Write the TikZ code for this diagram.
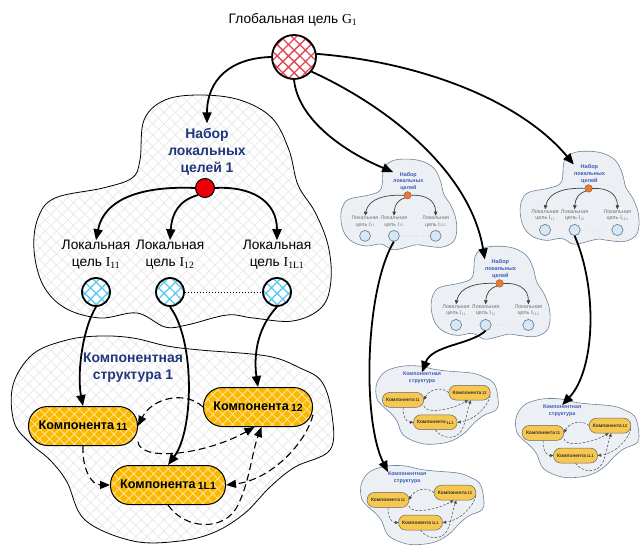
\documentclass[tikz,border=0pt]{standalone}
\usepackage{fontspec}
\setmainfont{Liberation Sans}
\newfontfamily\tmsfont{Liberation Serif}
\usetikzlibrary{arrows.meta,patterns.meta,calc}

\definecolor{navy}{RGB}{30,55,125}
\definecolor{smallnavy}{RGB}{60,90,180}
\definecolor{goalblue}{RGB}{90,200,240}
\definecolor{hubred}{RGB}{235,0,10}
\definecolor{hubor}{RGB}{240,120,40}
\definecolor{ggred}{RGB}{225,70,85}
\definecolor{comporange}{RGB}{250,185,0}
\definecolor{comphatch}{RGB}{255,228,150}
\definecolor{smallcomp}{RGB}{247,200,80}
\definecolor{paleblob}{RGB}{236,240,245}
\definecolor{paleedge}{RGB}{110,130,150}
\definecolor{smallcircle}{RGB}{214,232,246}

% serif letter with serif subscript, e.g. I_{11}
\newcommand\subidx[2]{{\tmsfont #1\textsubscript{#2}}}
% component caption with its small index
\newcommand\complabel[1]{Компонента\,\raisebox{-1bp}{\fontsize{10.5}{11}\selectfont #1}}

\tikzset{
  mainarrow/.style={line width=1.8bp, -{Triangle[length=11bp,width=9bp]}},
  globalgoal/.style={circle, minimum size=44bp, inner sep=0pt, draw=black, line width=1.8bp,
    preaction={fill=white}, pattern={Hatch[angle=45,distance=8bp,line width=1.3bp]}, pattern color=ggred},
  bigset/.style={
    blob/.style={draw=black, line width=0.8bp, preaction={fill=white},
      pattern={Hatch[angle=45,distance=8bp,line width=0.7bp]}, pattern color=black!9},
    settitle/.style={font=\fontsize{14}{17}\selectfont\bfseries, text=navy, align=center, inner sep=0pt},
    goallabel/.style={font=\fontsize{13.8}{17}\selectfont, align=center, inner sep=0pt},
    goal/.style={circle, minimum size=28bp, inner sep=0pt, draw=black, line width=1.8bp,
      preaction={fill=white}, pattern={Hatch[angle=45,distance=8bp,line width=1.3bp]}, pattern color=goalblue},
    hub/.style={circle, minimum size=19bp, inner sep=0pt, fill=hubred, draw=black, line width=1bp},
    goalarrow/.style={line width=1.8bp, -{Triangle[length=11bp,width=9bp]}},
    dotline/.style={dotted, line width=1bp},
    comp/.style={rectangle, rounded corners=19bp, minimum height=39bp, minimum width=109bp, inner sep=0pt,
      draw=black, line width=1bp, preaction={fill=comporange},
      pattern={Hatch[angle=45,distance=7bp,line width=0.9bp]}, pattern color=comphatch,
      font=\fontsize{12.7}{14}\selectfont\bfseries},
    link/.style={dash pattern=on 7bp off 4bp, line width=1.1bp, -{Triangle[length=10bp,width=8bp]}},
  },
  smallset/.style={
    blob/.style={draw=paleedge, line width=0.6bp, fill=paleblob},
    settitle/.style={font=\fontsize{14}{17}\selectfont\bfseries, text=smallnavy, align=center, inner sep=0pt},
    goallabel/.style={font=\fontsize{13.8}{17}\selectfont, text=black!55, align=center, inner sep=0pt},
    goal/.style={circle, minimum size=28bp, inner sep=0pt, draw=paleedge, line width=0.7bp, fill=smallcircle},
    hub/.style={circle, minimum size=19bp, inner sep=0pt, fill=hubor, draw=black!60, line width=0.4bp},
    goalarrow/.style={line width=0.7bp, draw=black!75, -{Triangle[length=4bp,width=3.5bp]}},
    dotline/.style={dotted, line width=0.4bp, draw=black!50},
    comp/.style={rectangle, rounded corners=7.3bp, minimum height=39bp, minimum width=109bp, inner sep=0pt,
      draw=black!60, line width=0.5bp, fill=smallcomp,
      font=\fontsize{12.7}{14}\selectfont\bfseries, text=black!80},
    link/.style={dash pattern=on 2.5bp off 1.6bp, line width=0.5bp, draw=black!70, -{Triangle[length=3.5bp,width=3bp]}},
  },
}

% a set of local goals: prefix, shift, scale, title, look
\newcommand\goalset[5]{%
\begin{scope}[shift={#2}, scale=#3, #5, every node/.append style={transform shape}]
  \path[blob] plot[smooth cycle, tension=0.6] coordinates {(140,160) (144,120) (165,100) (200,95)
    (240,100) (272,118) (289,150) (298,185) (315,212) (328,245) (331,280) (322,307) (293,321)
    (253,318) (227,315) (187,325) (165,327) (137,313) (100,318) (65,308) (43,285) (34,250)
    (38,218) (55,198) (103,188) (132,178)};
  \node[settitle] (#1title) at (207,152) {#4};
  \node[hub] (#1hub) at (205,188) {};
  \node[goallabel] (#1l1) at (96,255) {Локальная\\цель \subidx{I}{11}};
  \node[goallabel] (#1l2) at (170,255) {Локальная\\цель \subidx{I}{12}};
  \node[goallabel] (#1l3) at (277,255) {Локальная\\цель \subidx{I}{1L1}};
  \node[goal] (#1g1) at (96,292) {};
  \node[goal] (#1g2) at (170,292) {};
  \node[goal] (#1g3) at (277,292) {};
  \draw[goalarrow] (#1hub.west) .. controls (150,186) and (105,195) .. (#1l1.north);
  \draw[goalarrow] (#1hub.south west) .. controls (180,200) and (172,212) .. (#1l2.north);
  \draw[goalarrow] (#1hub.east) .. controls (250,186) and (277,200) .. (#1l3.north);
  \draw[dotline] (#1g2) -- (#1g3);
\end{scope}}

% a component structure: prefix, shift, scale, title, look
\newcommand\compset[5]{%
\begin{scope}[shift={#2}, scale=#3, #5, every node/.append style={transform shape}]
  \path[blob] plot[smooth cycle, tension=0.6] coordinates {(13,385) (33,354) (67,340) (100,336)
    (133,338) (167,346) (200,350) (267,356) (300,368) (322,382) (332,415) (330,450) (295,467)
    (270,487) (245,513) (215,532) (180,541) (133,541) (85,520) (67,482) (50,460) (30,443) (14,422)};
  \node[settitle] (#1title) at (133,368) {#4};
  \node[comp] (#1k11) at (83,426) {\complabel{11}};
  \node[comp] (#1k12) at (258,407) {\complabel{12}};
  \node[comp, minimum width=115bp] (#1k1L) at (168,485) {\complabel{1L1}};
  \draw[link] (#1k12.west) .. controls (185,390) and (152,398) .. (#1k11.east);
  \draw[link] (#1k11.-16) .. controls (140,462) and (205,455) .. (#1k12.-100);
  \draw[link] (#1k12.-8) .. controls (305,445) and (270,480) .. (#1k1L.east);
  \draw[link] (#1k1L.south) .. controls (185,530) and (225,532) .. (238,505)
                            .. controls (250,480) and (252,452) .. (#1k12.-80);
  \draw[link] (#1k11.south) .. controls (82,470) and (92,485) .. (#1k1L.west);
\end{scope}}

\begin{document}
\begin{tikzpicture}[x=1bp, y=-1bp]
  \fill[white] (0,0) rectangle (641,548);
  \useasboundingbox (0,0) rectangle (641,548);

  % global goal
  \node[font=\fontsize{13.8}{16}\selectfont, inner sep=0pt] (Gt) at (293,20) {Глобальная цель \subidx{G}{1}};
  \node[globalgoal] (G) at (294,57) {};

  % first level, drawn in full
  \goalset{L}{(0,0)}{1}{Набор\\локальных\\целей 1}{bigset}
  \compset{K}{(0,0)}{1}{Компонентная\\структура 1}{bigset}

  % further levels, drawn small
  \goalset{S1}{(327.6,122)}{0.39}{Набор\\локальных\\целей}{smallset}
  \goalset{S2}{(506.6,113.2)}{0.4}{Набор\\локальных\\целей}{smallset}
  \goalset{S3}{(417.6,208.2)}{0.4}{Набор\\локальных\\целей}{smallset}
  \compset{A}{(371.5,238)}{0.38}{Компонентная\\структура}{smallset}
  \compset{B}{(511.2,269.8)}{0.383}{Компонентная\\структура}{smallset}
  \compset{C}{(356.2,336.8)}{0.383}{Компонентная\\структура}{smallset}

  % from the global goal to the sets of local goals
  \draw[mainarrow] (G.west) .. controls (230,58) and (207,80) .. ($(Ltitle.north)+(0,-5)$);
  \draw[mainarrow] (G.south) .. controls (298,120) and (345,152) .. (S1title.north west);
  \draw[mainarrow] (G.-40) .. controls (385,105) and (470,170) .. (S3title.north west);
  \draw[mainarrow] (G.8) .. controls (420,62) and (520,100) .. (S2title.north west);

  % from local goals to components
  \draw[mainarrow] (Lg1.south) .. controls (82,330) and (77,375) .. (Kk11.north);
  \draw[mainarrow] (Lg2.south) .. controls (195,340) and (194,430) .. (Kk1L.north);
  \draw[mainarrow] (Lg3.south) .. controls (255,330) and (254,360) .. (Kk12.north);

  % from the small sets to the small structures
  \draw[mainarrow] (S1g2.south) .. controls (365,290) and (362,420) .. (Ctitle.north west);
  \draw[mainarrow] (S2g2.south) .. controls (598,290) and (595,370) .. (Btitle.north);
  \draw[mainarrow] (S3g2.south) .. controls (470,345) and (432,345) .. (Atitle.north);
\end{tikzpicture}
\end{document}
